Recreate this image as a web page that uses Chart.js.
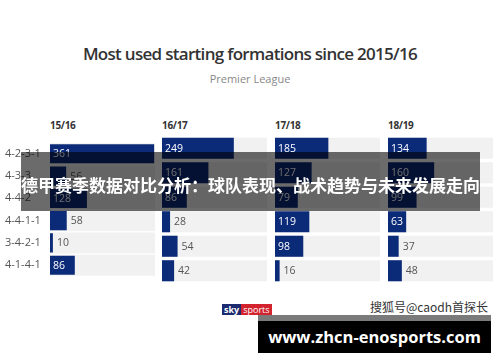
<!DOCTYPE html>
<html>
<head>
<meta charset="utf-8">
<script src="https://cdn.jsdelivr.net/npm/chart.js@4"></script>
<style>
  html, body { margin: 0; padding: 0; background: #fff; }
  #wrap { position: relative; width: 500px; height: 362px; overflow: hidden; background: #fff; font-family: "Open Sans", sans-serif; }
  .abs { position: absolute; white-space: nowrap; }
  #title { left: 0; width: 500px; top: 42px; text-align: center; font-size: 17px; font-weight: 600; color: #333; letter-spacing: -0.7px; }
  #sub { left: 0; width: 500px; top: 71px; text-align: center; font-size: 11px; color: #888; }
  .hdr { top: 118px; font-size: 10px; font-weight: 700; color: #333; letter-spacing: -0.3px; }
  canvas.c { position: absolute; }
  #overlay { left: 21px; top: 152px; width: 459px; height: 59px; background: rgba(0,0,0,0.58); }
  #ovtext { left: 21px; width: 459px; top: 172px; text-align: center; color: #fff; font-family: "Noto Sans CJK SC", sans-serif; font-weight: 700; font-size: 17px; line-height: 26px; }
  #sky { left: 222px; top: 304px; height: 11px; font-size: 9px; line-height: 11px; font-family: "Open Sans", sans-serif; }
  #sky span { display: inline-block; height: 11px; color: #fff; padding: 0 2px; }
  #wm { left: 370px; top: 299px; font-size: 12px; color: #333; font-family: "Noto Sans CJK SC", sans-serif; line-height: 16px; }
  #box { left: 258px; top: 315px; width: 233px; height: 38px; background: #000; }
  #boxtop { left: 258px; top: 315px; width: 233px; height: 6px; background: #7a7a7a; }
  #url { left: 258px; width: 233px; top: 326px; text-align: center; color: #fff; font-weight: 700; font-size: 16.5px; line-height: 22px; }
</style>
</head>
<body>
<div id="wrap">
  <div class="abs" id="title">Most used starting formations since 2015/16</div>
  <div class="abs" id="sub">Premier League</div>
</div>
<script>
const formations = ["4-2-3-1", "4-3-3", "4-4-2", "4-4-1-1", "3-4-2-1", "4-1-4-1"];
const seasons = ["15/16", "16/17", "17/18", "18/19"];
const s1516 = [361, 56, 128, 58, 10, 86];
const s1617 = [249, 161, 86, 28, 54, 42];
const s1718 = [185, 127, 79, 119, 98, 16];
const s1819 = [134, 160, 99, 63, 37, 48];
const seriesValues = [s1516, s1617, s1718, s1819];

const BAR = "#0b2a78";
const BAND = "#f1f1f1";
const XMAX = 364;
const panelLeft = [50, 162, 275, 388];
const panelW = 105;
const top0 = 136, plotH = 147;

const wrap = document.getElementById("wrap");

const bandPlugin = {
  id: "bands",
  beforeDatasetsDraw(chart) {
    const { ctx, chartArea, scales } = chart;
    const y = scales.y;
    const h = (plotH / formations.length) * 0.86;
    ctx.save();
    ctx.fillStyle = BAND;
    formations.forEach((f, i) => {
      const cy = y.getPixelForValue(i);
      ctx.fillRect(chartArea.left, cy - h / 2, chartArea.right - chartArea.left, h);
    });
    ctx.restore();
  }
};

const valuePlugin = {
  id: "vals",
  afterDatasetsDraw(chart) {
    const { ctx } = chart;
    const meta = chart.getDatasetMeta(0);
    const data = chart.data.datasets[0].data;
    ctx.save();
    ctx.font = "10.5px 'Open Sans', sans-serif";
    ctx.textBaseline = "middle";
    ctx.textAlign = "left";
    meta.data.forEach((el, i) => {
      const v = data[i];
      if (v >= 60) {
        ctx.fillStyle = "#ffffff";
        ctx.fillText(String(v), el.base + 3, el.y + 0.5);
      } else {
        ctx.fillStyle = "#555555";
        ctx.fillText(String(v), el.x + 4, el.y + 0.5);
      }
    });
    ctx.restore();
  }
};

seasons.forEach((season, k) => {
  const hdr = document.createElement("div");
  hdr.className = "abs hdr";
  hdr.style.left = panelLeft[k] + "px";
  hdr.textContent = season;
  wrap.appendChild(hdr);

  const first = k === 0;
  const cv = document.createElement("canvas");
  cv.className = "c";
  const left = first ? 0 : panelLeft[k];
  const w = first ? panelLeft[0] + panelW : panelW;
  cv.width = w; cv.height = plotH;
  cv.style.left = left + "px"; cv.style.top = top0 + "px";
  cv.style.width = w + "px"; cv.style.height = plotH + "px";
  wrap.appendChild(cv);

  const yScale = {
    display: first,
    grid: { display: false },
    border: { display: false },
    ticks: {
      crossAlign: "far",
      padding: 0,
      color: "#555",
      font: { family: "'Open Sans', sans-serif", size: 11 }
    }
  };
  if (first) yScale.afterFit = (s) => { s.width = 45; };

  new Chart(cv.getContext("2d"), {
    type: "bar",
    data: {
      labels: formations,
      datasets: [{
        data: seriesValues[k],
        backgroundColor: BAR,
        borderWidth: 0,
        categoryPercentage: 1,
        barPercentage: 0.86
      }]
    },
    options: {
      indexAxis: "y",
      responsive: false,
      animation: false,
      devicePixelRatio: 1,
      layout: { padding: { left: first ? 5 : 0, right: 0, top: 0, bottom: 0 } },
      plugins: { legend: { display: false }, tooltip: { enabled: false }, title: { display: false } },
      scales: {
        x: { display: false, min: 0, max: XMAX },
        y: yScale
      }
    },
    plugins: [bandPlugin, valuePlugin]
  });
});

function add(html) { wrap.insertAdjacentHTML("beforeend", html); }
add('<div class="abs" id="sky"><span style="background:#1b2b6e;font-weight:700">sky</span><span style="background:#d2232f">sports</span></div>');
add('<div class="abs" id="wm">搜狐号@caodh首探长</div>');
add('<div class="abs" id="overlay"></div>');
add('<div class="abs" id="ovtext">德甲赛季数据对比分析：球队表现、战术趋势与未来发展走向</div>');
add('<div class="abs" id="box"></div>');
add('<div class="abs" id="boxtop"></div>');
add('<div class="abs" id="url">www.zhcn-enosports.com</div>');
</script>
</body>
</html>
